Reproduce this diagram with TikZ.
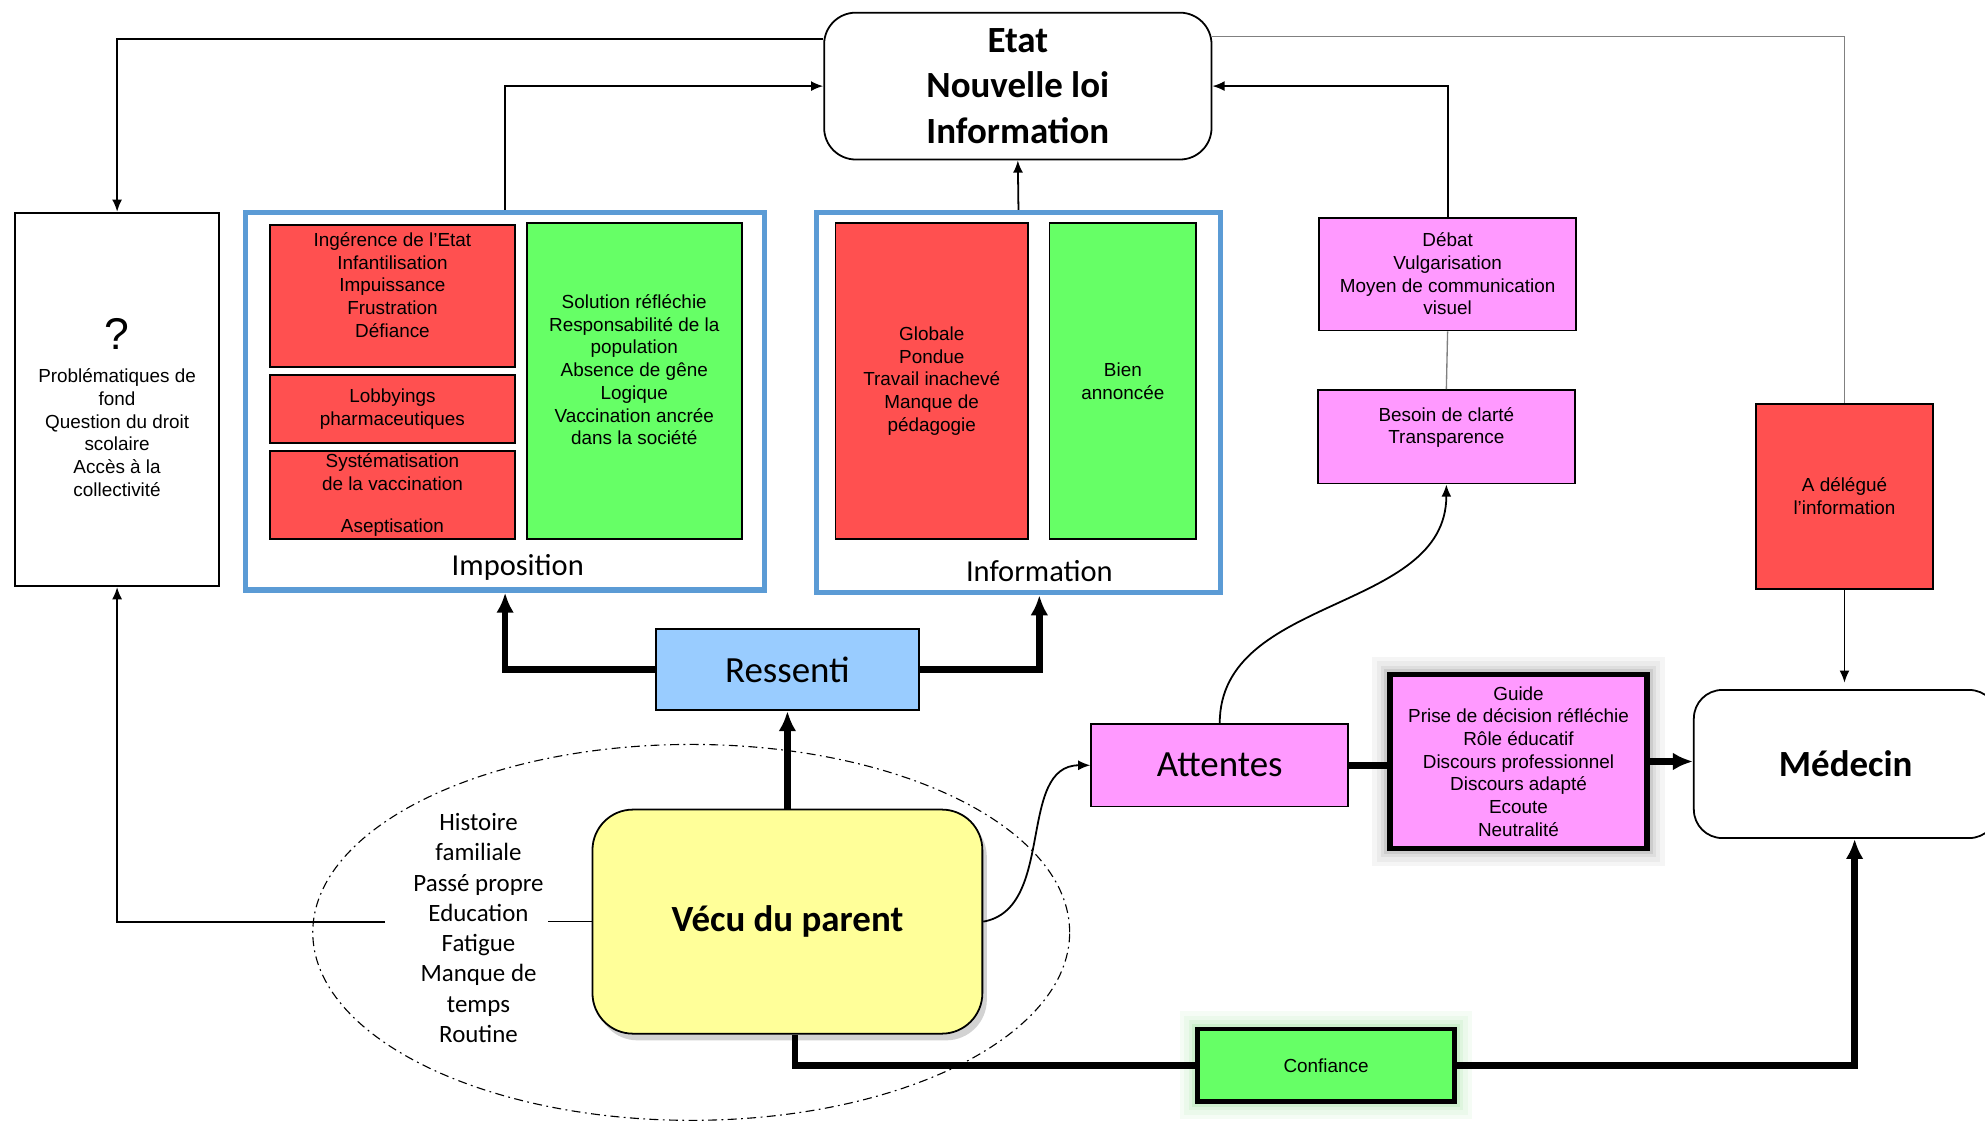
\documentclass[tikz,border=0pt]{standalone}
\usepackage{fontspec}
\setmainfont{Liberation Sans}
\newfontfamily\calibri{Carlito}
\usetikzlibrary{arrows.meta,shadows}

\definecolor{boxRed}{HTML}{FF5050}
\definecolor{boxGreen}{HTML}{66FF66}
\definecolor{boxPink}{HTML}{FF99FF}
\definecolor{boxBlue}{HTML}{99CCFF}
\definecolor{boxYellow}{HTML}{FFFF99}
\definecolor{frameBlue}{HTML}{5B9BD5}

\begin{document}
\begin{tikzpicture}
[x=0.02cm,y=-0.02cm,%
  boxSize/.style 2 args={minimum width=#1*0.02cm,minimum height=#2*0.02cm,inner sep=0pt},%
  smallText/.style={font=\fontsize{8.5}{10.2}\selectfont,align=center},%
  bigText/.style={font=\calibri\fontsize{16.6}{20.4}\selectfont,align=center},%
  bigBold/.style={font=\calibri\bfseries\fontsize{16.6}{20.4}\selectfont,align=center},%
  redBox/.style={draw,line width=0.8pt,fill=boxRed,smallText},%
  greenBox/.style={draw,line width=0.8pt,fill=boxGreen,smallText},%
  pinkBox/.style={draw,line width=0.8pt,fill=boxPink,smallText},%
  frameBox/.style={draw=frameBlue,line width=2.5pt},%
  frameLabel/.style={font=\calibri\fontsize{13.7}{16}\selectfont},%
  roundBox/.style={draw,line width=0.8pt,rounded corners=0.5cm,fill=white},%
  glowBox/.style={preaction={draw=#1!4,line width=16pt},preaction={draw=#1!8,line width=12pt},%
    preaction={draw=#1!13,line width=8pt},preaction={draw=#1!20,line width=5pt}},%
  thinArrow/.style={-{Latex[length=5.5pt,width=4.5pt]},line width=0.8pt},%
  thickLine/.style={line width=3pt},%
  thickArrow/.style={-{Latex[length=9pt,width=8pt]},line width=3pt},%
  grayLine/.style={draw=gray,line width=0.6pt}]
\useasboundingbox (0,0) rectangle (1568,890);
%% top and left boxes
\node[roundBox,bigBold,boxSize={306}{116}] (etat) at (804,68) {Etat\\Nouvelle loi\\Information};
\node[draw,line width=0.8pt,smallText,boxSize={161}{295}] (question) at (92.5,315.5)
  {\rule{0pt}{21pt}{\fontsize{20}{20}\selectfont ?}\\[5pt]Problématiques de\\fond\\Question du droit\\scolaire\\Accès à la\\collectivité};
%% frames
\node[frameBox,boxSize={410}{298}] (imposition) at (399,317) {};
\node[frameBox,boxSize={319}{300}] (information) at (804.5,318) {};
\node[frameLabel] (impositionLabel) at (409,448) {Imposition};
\node[frameLabel] (informationLabel) at (821,451) {Information};
%% boxes inside the frames
\node[redBox,boxSize={194}{112}] (ingerence) at (310,234)
  {Ingérence de l’Etat\\Infantilisation\\Impuissance\\Frustration\\Défiance\\\mbox{}};
\node[redBox,boxSize={194}{54}] (lobbyings) at (310,323) {Lobbyings\\pharmaceutiques};
\node[redBox,boxSize={194}{70}] (systematisation) at (310,391)
  {Systématisation\\de la vaccination\\[8.5pt]Aseptisation};
\node[greenBox,boxSize={170}{250}] (solution) at (501,301)
  {Solution réfléchie\\Responsabilité de la\\population\\Absence de gêne\\Logique\\Vaccination ancrée\\dans la société\\\mbox{}};
\node[redBox,boxSize={152}{250}] (globale) at (736,301)
  {Globale\\Pondue\\Travail inachevé\\Manque de\\pédagogie};
\node[greenBox,boxSize={116}{250}] (annoncee) at (887,301) {Bien\\annoncée};
%% right side
\node[pinkBox,boxSize={203}{89}] (debat) at (1143.5,216.5)
  {Débat\\Vulgarisation\\Moyen de communication\\visuel};
\node[pinkBox,boxSize={203}{74}] (besoin) at (1142.5,345) {Besoin de clarté\\Transparence\\\mbox{}};
\node[redBox,boxSize={140}{146}] (delegue) at (1457,392) {A délégué\\l’information};
\node[roundBox,bigBold,rounded corners=0.45cm,boxSize={240}{117}] (medecin) at (1458,603.5) {Médecin};
%% middle and bottom
\node[draw,line width=0.8pt,fill=boxBlue,bigText,boxSize={208}{64}] (ressenti) at (622,529) {Ressenti};
\node[draw,line width=0.8pt,fill=boxPink,bigText,boxSize={203}{65}] (attentes) at (963.5,604.5) {Attentes};
\node[draw,line width=2.3pt,fill=boxPink,smallText,boxSize={203}{137},glowBox=black] (guide) at (1199.5,601.5)
  {Guide\\Prise de décision réfléchie\\Rôle éducatif\\Discours professionnel\\Discours adapté\\Ecoute\\Neutralité};
\node[draw,line width=2pt,fill=boxGreen,smallText,boxSize={203}{57},glowBox=green!70!black] (confiance) at (1047.5,841.5) {Confiance};
\draw[dash pattern=on 4pt off 2pt on 0.8pt off 2pt,line width=0.5pt] (546,736.5) ellipse [x radius=5.98cm,y radius=2.97cm];
\node[draw,line width=0.8pt,fill=boxYellow,bigBold,rounded corners=0.64cm,boxSize={308}{177},
  drop shadow={shadow xshift=2pt,shadow yshift=-3pt,fill=black!35}] (vecu) at (622,728) {Vécu du parent};
\node[font=\calibri\fontsize{11.2}{13.6}\selectfont,align=center,inner xsep=2pt] (histoire) at (378,733)
  {Histoire\\familiale\\Passé propre\\Education\\Fatigue\\Manque de\\temps\\Routine};
\coordinate (histoireGap) at ([xshift=-0.37cm]histoire.west);
%% thin connectors
\draw[thinArrow] (imposition.north) |- (etat.west);
\draw[thinArrow] (information.north) -- (etat.south);
\draw[thinArrow] (debat.north) |- (etat.east);
\draw[thinArrow] ([yshift=0.74cm]etat.west) -| (question.north);
\draw[grayLine] ([yshift=0.78cm]etat.east) -| (delegue.north);
\draw[thinArrow] (delegue.south) -- ([yshift=0.1cm]delegue.south |- medecin.north);
\draw[grayLine] (besoin.north) -- (debat.south);
\draw[thinArrow] (vecu.east) to[out=10,in=180] (attentes.west);
\draw[thinArrow] (attentes.north) to[out=90,in=-90] (besoin.south);
\draw[line width=0.6pt] (vecu.west) -- (histoire.east |- vecu.west);
\draw[thinArrow] (histoireGap |- vecu.west) -| (question.south);
%% thick connectors
\draw[thickArrow] (ressenti.west) -| (imposition.south);
\draw[thickArrow] (ressenti.east) -| (information.south -| informationLabel);
\draw[thickArrow] (vecu.north) -- (ressenti.south);
\draw[thickLine] (attentes.east) -- (attentes.east -| guide.west);
\draw[thickArrow] (guide.east) -- (guide.east -| medecin.west);
\draw[thickLine] ([xshift=0.12cm]vecu.south) |- (confiance.west);
\draw[thickArrow] (confiance.east) -| ([xshift=0.14cm]medecin.south);
\end{tikzpicture}
\end{document}
